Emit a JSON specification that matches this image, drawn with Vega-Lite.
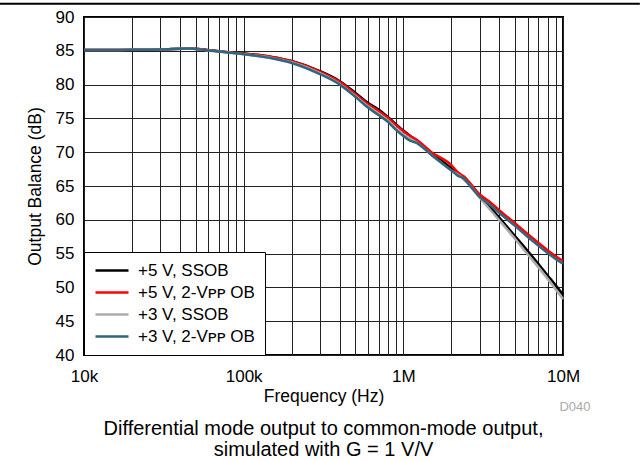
{
  "$schema": "https://vega.github.io/schema/vega-lite/v6.json",
  "width": 479,
  "height": 338,
  "autosize": "none",
  "padding": {"left": 84, "top": 17, "right": 77, "bottom": 106},
  "background": "white",
  "title": {
    "text": ["Differential mode output to common-mode output,", "simulated with G = 1 V/V"],
    "orient": "bottom",
    "anchor": "middle",
    "font": "Liberation Sans",
    "fontSize": 20,
    "fontWeight": "normal",
    "lineHeight": 21,
    "offset": 5,
    "color": "#000"
  },
  "config": {
    "view": {"stroke": "#000", "strokeWidth": 2},
    "font": "Liberation Sans",
    "axis": {
      "labelFont": "Liberation Sans",
      "titleFont": "Liberation Sans",
      "labelFontSize": 17,
      "titleFontSize": 17.5,
      "titleFontWeight": "normal",
      "labelColor": "#000",
      "titleColor": "#000",
      "domain": false,
      "ticks": false,
      "gridColor": "#222",
      "gridWidth": 1,
      "gridOpacity": 1
    }
  },
  "datasets": {
    "curves": [
      {"f": 10000, "db": 85.1, "s": "+5 V, SSOB"},
      {"f": 15000, "db": 85.1, "s": "+5 V, SSOB"},
      {"f": 20000, "db": 85.15, "s": "+5 V, SSOB"},
      {"f": 30000, "db": 85.2, "s": "+5 V, SSOB"},
      {"f": 40000, "db": 85.3, "s": "+5 V, SSOB"},
      {"f": 45000, "db": 85.35, "s": "+5 V, SSOB"},
      {"f": 50000, "db": 85.3, "s": "+5 V, SSOB"},
      {"f": 60000, "db": 85.1, "s": "+5 V, SSOB"},
      {"f": 70000, "db": 84.95, "s": "+5 V, SSOB"},
      {"f": 80000, "db": 84.8, "s": "+5 V, SSOB"},
      {"f": 100000, "db": 84.6, "s": "+5 V, SSOB"},
      {"f": 150000, "db": 84.1, "s": "+5 V, SSOB"},
      {"f": 200000, "db": 83.5, "s": "+5 V, SSOB"},
      {"f": 300000, "db": 82.0, "s": "+5 V, SSOB"},
      {"f": 400000, "db": 80.5, "s": "+5 V, SSOB"},
      {"f": 500000, "db": 78.8, "s": "+5 V, SSOB"},
      {"f": 600000, "db": 77.3, "s": "+5 V, SSOB"},
      {"f": 700000, "db": 76.3, "s": "+5 V, SSOB"},
      {"f": 800000, "db": 75.2, "s": "+5 V, SSOB"},
      {"f": 1000000, "db": 73.2, "s": "+5 V, SSOB"},
      {"f": 1200000, "db": 71.8, "s": "+5 V, SSOB"},
      {"f": 1500000, "db": 69.9, "s": "+5 V, SSOB"},
      {"f": 2000000, "db": 67.6, "s": "+5 V, SSOB"},
      {"f": 2500000, "db": 65.6, "s": "+5 V, SSOB"},
      {"f": 3000000, "db": 63.6, "s": "+5 V, SSOB"},
      {"f": 4000000, "db": 60.3, "s": "+5 V, SSOB"},
      {"f": 5000000, "db": 57.6, "s": "+5 V, SSOB"},
      {"f": 6000000, "db": 55.4, "s": "+5 V, SSOB"},
      {"f": 7000000, "db": 53.5, "s": "+5 V, SSOB"},
      {"f": 8000000, "db": 51.8, "s": "+5 V, SSOB"},
      {"f": 9000000, "db": 50.3, "s": "+5 V, SSOB"},
      {"f": 10000000, "db": 48.9, "s": "+5 V, SSOB"},

      {"f": 10000, "db": 85.1, "s": "+5 V, 2-Vᴘᴘ OB"},
      {"f": 20000, "db": 85.15, "s": "+5 V, 2-Vᴘᴘ OB"},
      {"f": 30000, "db": 85.2, "s": "+5 V, 2-Vᴘᴘ OB"},
      {"f": 45000, "db": 85.35, "s": "+5 V, 2-Vᴘᴘ OB"},
      {"f": 60000, "db": 85.1, "s": "+5 V, 2-Vᴘᴘ OB"},
      {"f": 80000, "db": 84.8, "s": "+5 V, 2-Vᴘᴘ OB"},
      {"f": 100000, "db": 84.6, "s": "+5 V, 2-Vᴘᴘ OB"},
      {"f": 150000, "db": 84.1, "s": "+5 V, 2-Vᴘᴘ OB"},
      {"f": 200000, "db": 83.45, "s": "+5 V, 2-Vᴘᴘ OB"},
      {"f": 300000, "db": 81.9, "s": "+5 V, 2-Vᴘᴘ OB"},
      {"f": 400000, "db": 80.4, "s": "+5 V, 2-Vᴘᴘ OB"},
      {"f": 500000, "db": 78.6, "s": "+5 V, 2-Vᴘᴘ OB"},
      {"f": 600000, "db": 77.1, "s": "+5 V, 2-Vᴘᴘ OB"},
      {"f": 700000, "db": 76.1, "s": "+5 V, 2-Vᴘᴘ OB"},
      {"f": 800000, "db": 75.1, "s": "+5 V, 2-Vᴘᴘ OB"},
      {"f": 900000, "db": 74.0, "s": "+5 V, 2-Vᴘᴘ OB"},
      {"f": 1000000, "db": 73.1, "s": "+5 V, 2-Vᴘᴘ OB"},
      {"f": 1100000, "db": 72.4, "s": "+5 V, 2-Vᴘᴘ OB"},
      {"f": 1200000, "db": 71.9, "s": "+5 V, 2-Vᴘᴘ OB"},
      {"f": 1500000, "db": 70.0, "s": "+5 V, 2-Vᴘᴘ OB"},
      {"f": 2000000, "db": 68.1, "s": "+5 V, 2-Vᴘᴘ OB"},
      {"f": 2200000, "db": 67.0, "s": "+5 V, 2-Vᴘᴘ OB"},
      {"f": 2400000, "db": 66.4, "s": "+5 V, 2-Vᴘᴘ OB"},
      {"f": 2600000, "db": 65.5, "s": "+5 V, 2-Vᴘᴘ OB"},
      {"f": 3000000, "db": 63.8, "s": "+5 V, 2-Vᴘᴘ OB"},
      {"f": 3500000, "db": 62.6, "s": "+5 V, 2-Vᴘᴘ OB"},
      {"f": 4000000, "db": 61.4, "s": "+5 V, 2-Vᴘᴘ OB"},
      {"f": 5000000, "db": 59.5, "s": "+5 V, 2-Vᴘᴘ OB"},
      {"f": 6000000, "db": 57.9, "s": "+5 V, 2-Vᴘᴘ OB"},
      {"f": 7000000, "db": 56.6, "s": "+5 V, 2-Vᴘᴘ OB"},
      {"f": 8000000, "db": 55.5, "s": "+5 V, 2-Vᴘᴘ OB"},
      {"f": 9000000, "db": 54.6, "s": "+5 V, 2-Vᴘᴘ OB"},
      {"f": 10000000, "db": 53.9, "s": "+5 V, 2-Vᴘᴘ OB"},

      {"f": 10000, "db": 85.1, "s": "+3 V, SSOB"},
      {"f": 20000, "db": 85.15, "s": "+3 V, SSOB"},
      {"f": 30000, "db": 85.2, "s": "+3 V, SSOB"},
      {"f": 45000, "db": 85.35, "s": "+3 V, SSOB"},
      {"f": 60000, "db": 85.05, "s": "+3 V, SSOB"},
      {"f": 80000, "db": 84.75, "s": "+3 V, SSOB"},
      {"f": 100000, "db": 84.5, "s": "+3 V, SSOB"},
      {"f": 150000, "db": 83.95, "s": "+3 V, SSOB"},
      {"f": 200000, "db": 83.3, "s": "+3 V, SSOB"},
      {"f": 300000, "db": 81.7, "s": "+3 V, SSOB"},
      {"f": 400000, "db": 80.1, "s": "+3 V, SSOB"},
      {"f": 500000, "db": 78.3, "s": "+3 V, SSOB"},
      {"f": 600000, "db": 76.8, "s": "+3 V, SSOB"},
      {"f": 700000, "db": 75.7, "s": "+3 V, SSOB"},
      {"f": 800000, "db": 74.7, "s": "+3 V, SSOB"},
      {"f": 900000, "db": 73.5, "s": "+3 V, SSOB"},
      {"f": 1000000, "db": 72.6, "s": "+3 V, SSOB"},
      {"f": 1200000, "db": 71.5, "s": "+3 V, SSOB"},
      {"f": 1500000, "db": 69.6, "s": "+3 V, SSOB"},
      {"f": 2000000, "db": 67.3, "s": "+3 V, SSOB"},
      {"f": 2400000, "db": 66.0, "s": "+3 V, SSOB"},
      {"f": 3000000, "db": 63.3, "s": "+3 V, SSOB"},
      {"f": 4000000, "db": 59.9, "s": "+3 V, SSOB"},
      {"f": 5000000, "db": 57.2, "s": "+3 V, SSOB"},
      {"f": 6000000, "db": 54.9, "s": "+3 V, SSOB"},
      {"f": 7000000, "db": 53.0, "s": "+3 V, SSOB"},
      {"f": 8000000, "db": 51.3, "s": "+3 V, SSOB"},
      {"f": 9000000, "db": 49.7, "s": "+3 V, SSOB"},
      {"f": 10000000, "db": 48.3, "s": "+3 V, SSOB"},

      {"f": 10000, "db": 85.1, "s": "+3 V, 2-Vᴘᴘ OB"},
      {"f": 20000, "db": 85.15, "s": "+3 V, 2-Vᴘᴘ OB"},
      {"f": 30000, "db": 85.2, "s": "+3 V, 2-Vᴘᴘ OB"},
      {"f": 45000, "db": 85.35, "s": "+3 V, 2-Vᴘᴘ OB"},
      {"f": 60000, "db": 85.05, "s": "+3 V, 2-Vᴘᴘ OB"},
      {"f": 80000, "db": 84.75, "s": "+3 V, 2-Vᴘᴘ OB"},
      {"f": 100000, "db": 84.5, "s": "+3 V, 2-Vᴘᴘ OB"},
      {"f": 150000, "db": 83.9, "s": "+3 V, 2-Vᴘᴘ OB"},
      {"f": 200000, "db": 83.2, "s": "+3 V, 2-Vᴘᴘ OB"},
      {"f": 300000, "db": 81.55, "s": "+3 V, 2-Vᴘᴘ OB"},
      {"f": 400000, "db": 80.0, "s": "+3 V, 2-Vᴘᴘ OB"},
      {"f": 500000, "db": 78.2, "s": "+3 V, 2-Vᴘᴘ OB"},
      {"f": 600000, "db": 76.6, "s": "+3 V, 2-Vᴘᴘ OB"},
      {"f": 700000, "db": 75.5, "s": "+3 V, 2-Vᴘᴘ OB"},
      {"f": 800000, "db": 74.5, "s": "+3 V, 2-Vᴘᴘ OB"},
      {"f": 900000, "db": 73.3, "s": "+3 V, 2-Vᴘᴘ OB"},
      {"f": 1000000, "db": 72.4, "s": "+3 V, 2-Vᴘᴘ OB"},
      {"f": 1100000, "db": 71.7, "s": "+3 V, 2-Vᴘᴘ OB"},
      {"f": 1200000, "db": 71.4, "s": "+3 V, 2-Vᴘᴘ OB"},
      {"f": 1500000, "db": 69.6, "s": "+3 V, 2-Vᴘᴘ OB"},
      {"f": 2000000, "db": 67.3, "s": "+3 V, 2-Vᴘᴘ OB"},
      {"f": 2200000, "db": 66.5, "s": "+3 V, 2-Vᴘᴘ OB"},
      {"f": 2400000, "db": 66.1, "s": "+3 V, 2-Vᴘᴘ OB"},
      {"f": 2600000, "db": 65.1, "s": "+3 V, 2-Vᴘᴘ OB"},
      {"f": 3000000, "db": 63.4, "s": "+3 V, 2-Vᴘᴘ OB"},
      {"f": 3500000, "db": 62.2, "s": "+3 V, 2-Vᴘᴘ OB"},
      {"f": 4000000, "db": 61.0, "s": "+3 V, 2-Vᴘᴘ OB"},
      {"f": 5000000, "db": 59.1, "s": "+3 V, 2-Vᴘᴘ OB"},
      {"f": 6000000, "db": 57.5, "s": "+3 V, 2-Vᴘᴘ OB"},
      {"f": 7000000, "db": 56.2, "s": "+3 V, 2-Vᴘᴘ OB"},
      {"f": 8000000, "db": 55.1, "s": "+3 V, 2-Vᴘᴘ OB"},
      {"f": 9000000, "db": 54.2, "s": "+3 V, 2-Vᴘᴘ OB"},
      {"f": 10000000, "db": 53.5, "s": "+3 V, 2-Vᴘᴘ OB"}
    ],
    "topline": [{"f": 2978, "fe": 30300000, "db": 91.97}],
    "note": [{"f": 11890000, "db": 32.35, "t": "D040"}]
  },
  "encoding": {
    "x": {
      "field": "f", "type": "quantitative",
      "scale": {"type": "log", "domain": [10000, 10000000], "nice": false},
      "axis": {
        "title": "Frequency (Hz)",
        "values": [10000,20000,30000,40000,50000,60000,70000,80000,90000,100000,200000,300000,400000,500000,600000,700000,800000,900000,1000000,2000000,3000000,4000000,5000000,6000000,7000000,8000000,9000000,10000000],
        "labelExpr": "datum.value == 10000 ? '10k' : datum.value == 100000 ? '100k' : datum.value == 1000000 ? '1M' : datum.value == 10000000 ? '10M' : ''",
        "labelPadding": 13,
        "titlePadding": 3,
        "labelFlush": false,
        "labelOverlap": false
      }
    },
    "y": {
      "field": "db", "type": "quantitative",
      "scale": {"domain": [40, 90], "nice": false, "zero": false},
      "axis": {
        "title": "Output Balance (dB)",
        "values": [40,45,50,55,60,65,70,75,80,85,90],
        "labelPadding": 10,
        "titlePadding": 11,
        "labelOverlap": false
      }
    }
  },
  "layer": [
    {
      "data": {"name": "curves"},
      "mark": {"type": "line", "strokeWidth": 2.5, "interpolate": "monotone"},
      "encoding": {
        "color": {
          "field": "s", "type": "nominal",
          "scale": {
            "domain": ["+5 V, SSOB", "+5 V, 2-Vᴘᴘ OB", "+3 V, SSOB", "+3 V, 2-Vᴘᴘ OB"],
            "range": ["#000000", "#ff0000", "#aaaaaa", "#2f6680"]
          },
          "legend": {
            "title": null,
            "orient": "bottom-left",
            "offset": 0,
            "padding": 10,
            "fillColor": "white",
            "strokeColor": "#000",
            "symbolType": "stroke",
            "symbolSize": 1089,
            "symbolStrokeWidth": 2.5,
            "labelFont": "Liberation Sans",
            "labelFontSize": 17,
            "labelColor": "#000",
            "labelOffset": 8,
            "clipHeight": 17,
            "rowPadding": 4,
            "labelLimit": 300
          }
        },
        "order": {"field": "f", "type": "quantitative"}
      }
    },
    {
      "data": {"name": "topline"},
      "mark": {"type": "rule", "color": "#000", "strokeWidth": 2},
      "encoding": {
        "x2": {"field": "fe"}
      }
    },
    {
      "data": {"name": "note"},
      "mark": {"type": "text", "font": "Liberation Sans", "fontSize": 13, "color": "#aaaaaa", "align": "center", "baseline": "middle"},
      "encoding": {
        "text": {"field": "t"}
      }
    }
  ]
}
